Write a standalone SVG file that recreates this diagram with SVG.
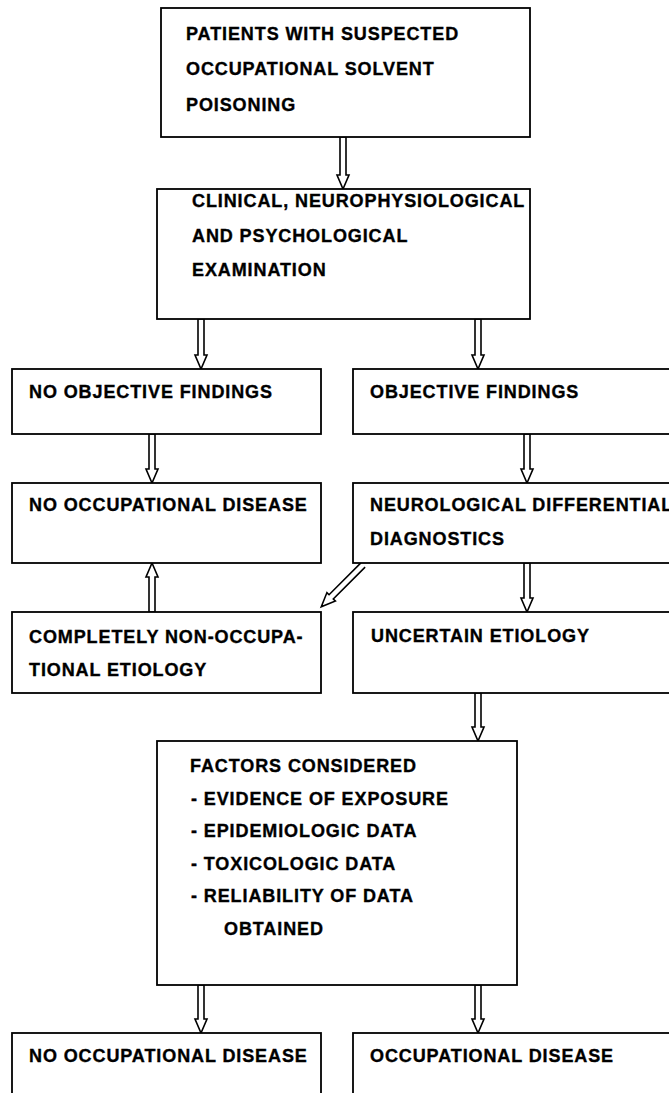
<svg xmlns="http://www.w3.org/2000/svg" width="669" height="1093" viewBox="0 0 669 1093">
  <style>
    .box { fill: #ffffff; stroke: #000000; stroke-width: 1.8; }
    .arr { fill: #ffffff; stroke: #000000; stroke-width: 1.6; stroke-linejoin: miter; }
    text { font-family: "Liberation Sans", Arial, sans-serif; font-weight: bold; font-size: 18px; letter-spacing: 0.9px; fill: #000000; stroke: #000000; stroke-width: 0.35px; }
  </style>
  <rect width="669" height="1093" fill="#ffffff"/>

  <!-- hollow block arrows -->
  <g id="connectors">
    <path class="arr" d="M340,137 V175 H337 L343,189 L349,175 H346 V137 Z"/>
    <path class="arr" d="M198,319 V355 H195 L201,369 L207,355 H204 V319 Z"/>
    <path class="arr" d="M475,319 V355 H472 L478,369 L484,355 H481 V319 Z"/>
    <path class="arr" d="M149,434 V469 H146 L152,483 L158,469 H155 V434 Z"/>
    <path class="arr" d="M524,434 V469 H521 L527,483 L533,469 H530 V434 Z"/>
    <path class="arr" d="M149,612 V577 H146 L152,563 L158,577 H155 V612 Z"/>
    <path class="arr" d="M-3,0 V45 H-6 L0,59 L6,45 H3 V0" transform="translate(363,565) rotate(45)"/>
    <path class="arr" d="M524,563 V598 H521 L527,612 L533,598 H530 V563 Z"/>
    <path class="arr" d="M475,693 V727 H472 L478,741 L484,727 H481 V693 Z"/>
    <path class="arr" d="M198,985 V1019 H195 L201,1033 L207,1019 H204 V985 Z"/>
    <path class="arr" d="M475,985 V1019 H472 L478,1033 L484,1019 H481 V985 Z"/>
  </g>

  <g id="start">
    <rect class="box" x="161" y="8" width="369" height="129"/>
    <text x="186" y="40">PATIENTS WITH SUSPECTED</text>
    <text x="186" y="75">OCCUPATIONAL SOLVENT</text>
    <text x="186" y="111">POISONING</text>
  </g>

  <g id="examination">
    <rect class="box" x="157" y="189" width="373" height="130"/>
    <text x="192" y="207">CLINICAL, NEUROPHYSIOLOGICAL</text>
    <text x="192" y="242">AND PSYCHOLOGICAL</text>
    <text x="192" y="276">EXAMINATION</text>
  </g>

  <g id="no-findings">
    <rect class="box" x="12" y="369" width="309" height="65"/>
    <text x="29" y="398">NO OBJECTIVE FINDINGS</text>
  </g>

  <g id="findings">
    <rect class="box" x="353" y="369" width="330" height="65"/>
    <text x="370" y="398">OBJECTIVE FINDINGS</text>
  </g>

  <g id="no-disease-1">
    <rect class="box" x="12" y="483" width="309" height="80"/>
    <text x="29" y="511">NO OCCUPATIONAL DISEASE</text>
  </g>

  <g id="differential">
    <rect class="box" x="353" y="483" width="330" height="80"/>
    <text x="370" y="511">NEUROLOGICAL DIFFERENTIAL</text>
    <text x="370" y="545">DIAGNOSTICS</text>
  </g>

  <g id="non-occupational">
    <rect class="box" x="12" y="612" width="309" height="81"/>
    <text x="29" y="643">COMPLETELY NON-OCCUPA-</text>
    <text x="29" y="676">TIONAL ETIOLOGY</text>
  </g>

  <g id="uncertain">
    <rect class="box" x="353" y="612" width="330" height="81"/>
    <text x="371" y="642">UNCERTAIN ETIOLOGY</text>
  </g>

  <g id="factors">
    <rect class="box" x="157" y="741" width="360" height="244"/>
    <text x="190" y="772">FACTORS CONSIDERED</text>
    <text x="191" y="805">- EVIDENCE OF EXPOSURE</text>
    <text x="191" y="837">- EPIDEMIOLOGIC DATA</text>
    <text x="191" y="870">- TOXICOLOGIC DATA</text>
    <text x="191" y="902">- RELIABILITY OF DATA</text>
    <text x="224" y="935">OBTAINED</text>
  </g>

  <g id="no-disease-2">
    <rect class="box" x="12" y="1033" width="309" height="80"/>
    <text x="29" y="1062">NO OCCUPATIONAL DISEASE</text>
  </g>

  <g id="disease">
    <rect class="box" x="353" y="1033" width="330" height="80"/>
    <text x="370" y="1062">OCCUPATIONAL DISEASE</text>
  </g>
</svg>
